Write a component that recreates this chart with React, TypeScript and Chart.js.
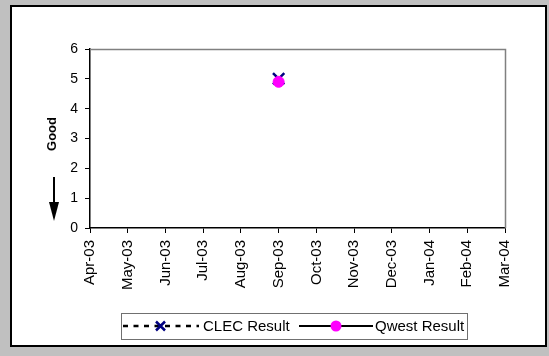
import React, { useEffect, useRef } from 'react';
import { Chart, registerables } from 'chart.js';

Chart.register(...registerables);

const months = ['Apr-03', 'May-03', 'Jun-03', 'Jul-03', 'Aug-03', 'Sep-03', 'Oct-03', 'Nov-03', 'Dec-03', 'Jan-04', 'Feb-04', 'Mar-04'];
const clecResult: (number | null)[] = [null, null, null, null, null, 5, null, null, null, null, null, null];
const qwestResult: (number | null)[] = [null, null, null, null, null, 4.9, null, null, null, null, null, null];
const yMin = 0;
const yMax = 6;
const yStep = 1;
const seriesNames = ['CLEC Result', 'Qwest Result'];
const axisTitle = 'Good';

const FONT = '"Liberation Sans", Arial, sans-serif';
const W = 549;
const H = 356;

const decorPlugin = {
  id: 'decor',
  afterDraw(chart: any) {
    const ctx: CanvasRenderingContext2D = chart.ctx;
    const a = chart.chartArea;
    ctx.save();

    // plot-area top / right border (gray)
    ctx.strokeStyle = '#808080';
    ctx.lineWidth = 1.5;
    ctx.beginPath();
    ctx.moveTo(a.left, a.top + 0.5);
    ctx.lineTo(a.right + 0.5, a.top + 0.5);
    ctx.lineTo(a.right + 0.5, a.bottom);
    ctx.stroke();

    // axis title "Good" rotated
    ctx.fillStyle = '#000';
    ctx.font = `bold 13px ${FONT}`;
    ctx.textAlign = 'center';
    ctx.textBaseline = 'middle';
    ctx.save();
    ctx.translate(52, 134);
    ctx.rotate(-Math.PI / 2);
    ctx.fillText(axisTitle, 0, 0);
    ctx.restore();

    // down arrow
    ctx.strokeStyle = '#000';
    ctx.lineWidth = 2;
    ctx.beginPath();
    ctx.moveTo(54, 177);
    ctx.lineTo(54, 203);
    ctx.stroke();
    ctx.beginPath();
    ctx.moveTo(49, 202);
    ctx.lineTo(59, 202);
    ctx.lineTo(54, 221);
    ctx.closePath();
    ctx.fill();

    // legend
    const ly = 326;
    ctx.fillStyle = '#fff';
    ctx.fillRect(121, 313, 346, 26);
    ctx.strokeStyle = '#707070';
    ctx.lineWidth = 1;
    ctx.strokeRect(121.5, 313.5, 346, 26);

    // CLEC item
    ctx.strokeStyle = '#000';
    ctx.lineWidth = 2.5;
    ctx.setLineDash([5, 5.5]);
    ctx.beginPath();
    ctx.moveTo(123, ly);
    ctx.lineTo(199, ly);
    ctx.stroke();
    ctx.setLineDash([]);
    ctx.strokeStyle = '#000080';
    ctx.lineWidth = 2.5;
    ctx.beginPath();
    ctx.moveTo(156, ly - 4.5);
    ctx.lineTo(165, ly + 4.5);
    ctx.moveTo(165, ly - 4.5);
    ctx.lineTo(156, ly + 4.5);
    ctx.stroke();

    ctx.fillStyle = '#000';
    ctx.font = `15px ${FONT}`;
    ctx.textAlign = 'left';
    ctx.textBaseline = 'alphabetic';
    ctx.fillText(seriesNames[0], 203, 331);

    // Qwest item
    ctx.strokeStyle = '#000';
    ctx.lineWidth = 2;
    ctx.beginPath();
    ctx.moveTo(299, ly);
    ctx.lineTo(373, ly);
    ctx.stroke();
    ctx.fillStyle = '#FF00FF';
    ctx.beginPath();
    ctx.arc(336, ly, 5.5, 0, Math.PI * 2);
    ctx.fill();

    ctx.fillStyle = '#000';
    ctx.fillText(seriesNames[1], 375, 331);

    ctx.restore();
  },
};

export default function App() {
  const ref = useRef<HTMLCanvasElement | null>(null);

  useEffect(() => {
    if (!ref.current) return;
    const chart = new Chart(ref.current, {
      type: 'line',
      data: {
        labels: months,
        datasets: [
          {
            label: seriesNames[0],
            data: clecResult,
            borderColor: '#000',
            borderDash: [5, 5],
            borderWidth: 2,
            pointStyle: 'crossRot',
            pointRadius: 8,
            pointBorderWidth: 2.5,
            pointBorderColor: '#000080',
            pointBackgroundColor: '#000080',
            order: 1,
          },
          {
            label: seriesNames[1],
            data: qwestResult,
            borderColor: '#000',
            borderWidth: 2,
            pointStyle: 'circle',
            pointRadius: 5.5,
            pointBorderWidth: 1,
            pointBorderColor: '#FF00FF',
            pointBackgroundColor: '#FF00FF',
            order: 0,
          },
        ],
      },
      options: {
        responsive: false,
        animation: false,
        devicePixelRatio: 1,
        layout: { padding: { left: 0, top: 49, right: 44, bottom: 0 } },
        plugins: {
          legend: { display: false },
          tooltip: { enabled: false },
        },
        scales: {
          x: {
            type: 'category',
            offset: false,
            grid: {
              display: true,
              drawOnChartArea: false,
              drawTicks: true,
              tickLength: 5,
              color: '#000',
            },
            border: { color: '#000', width: 1.5 },
            ticks: {
              autoSkip: false,
              minRotation: 90,
              maxRotation: 90,
              padding: 7,
              color: '#000',
              font: { family: FONT, size: 15 },
            },
            afterFit: (s: any) => {
              s.height = 128;
            },
          },
          y: {
            min: yMin,
            max: yMax,
            grid: {
              display: true,
              drawOnChartArea: false,
              drawTicks: true,
              tickLength: 5,
              color: '#000',
            },
            border: { color: '#000', width: 1.5 },
            ticks: {
              stepSize: yStep,
              padding: 7,
              color: '#000',
              font: { family: FONT, size: 14 },
            },
            afterFit: (s: any) => {
              s.width = 90;
            },
          },
        },
      },
      plugins: [decorPlugin],
    });
    return () => chart.destroy();
  }, []);

  return (
    <div
      style={{
        position: 'fixed',
        left: 0,
        top: 0,
        width: W,
        height: H,
        background: '#c0c0c0',
        overflow: 'hidden',
      }}
    >
      <div
        style={{
          position: 'absolute',
          left: 10,
          top: 5,
          width: 537,
          height: 342,
          boxSizing: 'border-box',
          border: '2px solid #000',
          background: '#fff',
        }}
      />
      <canvas
        ref={ref}
        width={W}
        height={H}
        style={{ position: 'absolute', left: 0, top: 0, width: W, height: H }}
      />
    </div>
  );
}
